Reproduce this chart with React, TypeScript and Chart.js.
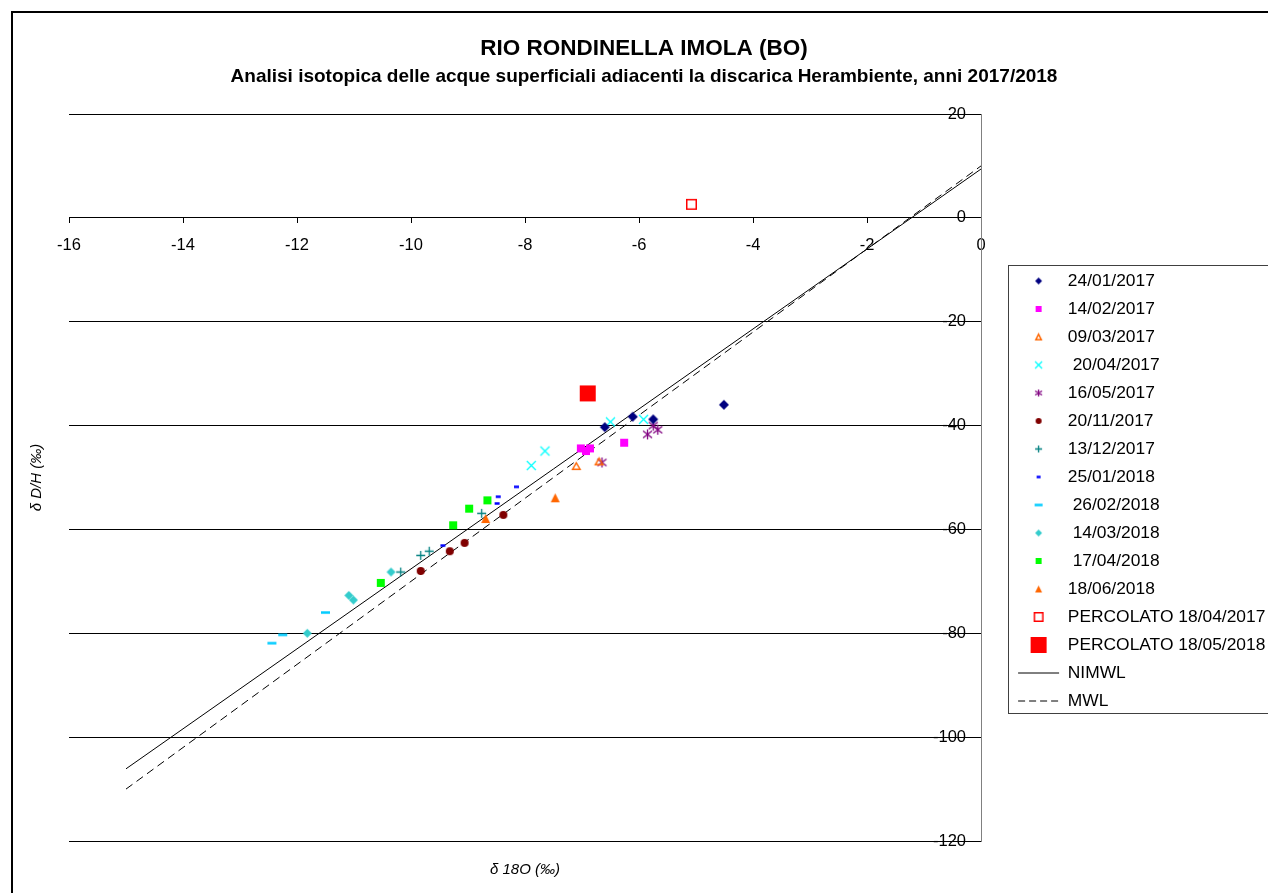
import React, { useEffect, useRef } from 'react';
import { Chart, registerables } from 'chart.js';

Chart.register(...registerables);

const FONT = '"Liberation Sans", Arial, Helvetica, sans-serif';

// Axis ranges / ticks
const X_MIN = -16;
const X_MAX = 0;
const X_STEP = 2;
const Y_MIN = -120;
const Y_MAX = 20;
const Y_STEP = 20;

const TITLE = 'RIO RONDINELLA IMOLA (BO)';
const SUBTITLE = 'Analisi isotopica delle acque superficiali adiacenti la discarica Herambiente, anni 2017/2018';
const X_TITLE = 'δ 18O (‰)';
const Y_TITLE = 'δ D/H (‰)';

const seriesLabels = [
  '24/01/2017',
  '14/02/2017',
  '09/03/2017',
  ' 20/04/2017',
  '16/05/2017',
  '20/11/2017',
  '13/12/2017',
  '25/01/2018',
  ' 26/02/2018',
  ' 14/03/2018',
  ' 17/04/2018',
  '18/06/2018',
  'PERCOLATO 18/04/2017',
  'PERCOLATO 18/05/2018',
  'NIMWL',
  'MWL',
];

// δ18O (x) and δD (y) values per sampling date
const o18_240117 = [-6.6, -6.11, -5.75, -4.51];
const dD_240117 = [-40.3, -38.3, -38.8, -36.0];
const o18_140217 = [-7.02, -6.93, -6.86, -6.26];
const dD_140217 = [-44.4, -44.9, -44.4, -43.3];
const o18_090317 = [-7.1, -6.7];
const dD_090317 = [-47.8, -46.9];
const o18_200417 = [-7.89, -7.65, -6.5, -5.92];
const dD_200417 = [-47.7, -44.9, -39.3, -38.8];
const o18_160517 = [-6.65, -5.85, -5.75, -5.67];
const dD_160517 = [-47.1, -41.7, -40.0, -40.8];
const o18_201117 = [-9.83, -9.32, -9.06, -8.38];
const dD_201117 = [-68.0, -64.2, -62.6, -57.2];
const o18_131217 = [-10.18, -9.83, -9.68, -8.76];
const dD_131217 = [-68.2, -65.0, -64.2, -56.9];
const o18_250118 = [-9.44, -8.49, -8.47, -8.15];
const dD_250118 = [-63.1, -55.0, -53.7, -51.8];
const o18_260218 = [-12.44, -12.25, -11.5];
const dD_260218 = [-81.9, -80.3, -76.0];
const o18_140318 = [-11.82, -11.09, -11.01, -10.35];
const dD_140318 = [-80.0, -72.7, -73.6, -68.2];
const o18_170418 = [-10.53, -9.26, -8.98, -8.66];
const dD_170418 = [-70.3, -59.2, -56.0, -54.4];
const o18_180618 = [-8.69, -7.47];
const dD_180618 = [-57.9, -53.9];
const o18_perc180417 = [-5.08];
const dD_perc180417 = [2.6];
const o18_perc180518 = [-6.9];
const dD_perc180518 = [-33.8];
// Meteoric water lines (end points)
const o18_nimwl = [-15, 0];
const dD_nimwl = [-106.1, 9.4];
const o18_mwl = [-15, 0];
const dD_mwl = [-110, 10];

const seriesX = [
  o18_240117, o18_140217, o18_090317, o18_200417, o18_160517, o18_201117, o18_131217,
  o18_250118, o18_260218, o18_140318, o18_170418, o18_180618, o18_perc180417, o18_perc180518,
];
const seriesY = [
  dD_240117, dD_140217, dD_090317, dD_200417, dD_160517, dD_201117, dD_131217,
  dD_250118, dD_260218, dD_140318, dD_170418, dD_180618, dD_perc180417, dD_perc180518,
];

const seriesColors = [
  '#000080', '#FF00FF', '#FF6600', '#00FFFF', '#800080', '#800000', '#008080',
  '#0000FF', '#00CCFF', '#33CCCC', '#00FF00', '#FF6600', '#FF0000', '#FF0000',
];

type Shape = 'diamond' | 'square' | 'triOpen' | 'tri' | 'x' | 'star' | 'circle' | 'plus' | 'dash' | 'sqOpen';
const seriesShapes: Shape[] = [
  'diamond', 'square', 'triOpen', 'x', 'star', 'circle', 'plus',
  'dash', 'dash', 'diamond', 'square', 'tri', 'sqOpen', 'square',
];
// [w, h] marker sizes in plot and legend
const plotSizes: number[][] = [
  [10, 10], [8, 8], [9, 8], [9, 9], [9, 10], [8, 8], [9, 9],
  [5, 2.5], [9, 2.5], [9, 9], [8, 8], [9, 9], [11, 11], [16, 16],
];
const legendSizes: number[][] = [
  [7, 7], [6, 6], [7, 7], [7, 7], [7, 7], [6, 6], [7, 7],
  [4, 2.5], [8, 2.5], [7, 7], [6, 6], [7, 7], [10, 10], [16, 16],
];

function makeMarker(shape: Shape, color: string, w: number, h: number): HTMLCanvasElement {
  const c = document.createElement('canvas');
  const cw = Math.ceil(w) + 4;
  const ch = Math.ceil(h) + 4;
  c.width = cw;
  c.height = ch;
  const ctx = c.getContext('2d')!;
  const cx = cw / 2;
  const cy = ch / 2;
  ctx.fillStyle = color;
  ctx.strokeStyle = color;
  ctx.lineWidth = 1.3;
  ctx.beginPath();
  switch (shape) {
    case 'diamond':
      ctx.moveTo(cx, cy - h / 2);
      ctx.lineTo(cx + w / 2, cy);
      ctx.lineTo(cx, cy + h / 2);
      ctx.lineTo(cx - w / 2, cy);
      ctx.closePath();
      ctx.fill();
      break;
    case 'square':
    case 'dash':
      ctx.fillRect(cx - w / 2, cy - h / 2, w, h);
      break;
    case 'sqOpen':
      ctx.lineWidth = 1.5;
      ctx.strokeRect(cx - w / 2 + 0.75, cy - h / 2 + 0.75, w - 1.5, h - 1.5);
      break;
    case 'tri':
      ctx.moveTo(cx, cy - h / 2);
      ctx.lineTo(cx + w / 2, cy + h / 2);
      ctx.lineTo(cx - w / 2, cy + h / 2);
      ctx.closePath();
      ctx.fill();
      break;
    case 'triOpen':
      ctx.lineWidth = 1.5;
      ctx.moveTo(cx, cy - h / 2 + 0.75);
      ctx.lineTo(cx + w / 2 - 0.75, cy + h / 2 - 0.75);
      ctx.lineTo(cx - w / 2 + 0.75, cy + h / 2 - 0.75);
      ctx.closePath();
      ctx.stroke();
      break;
    case 'x':
      ctx.moveTo(cx - w / 2, cy - h / 2);
      ctx.lineTo(cx + w / 2, cy + h / 2);
      ctx.moveTo(cx + w / 2, cy - h / 2);
      ctx.lineTo(cx - w / 2, cy + h / 2);
      ctx.stroke();
      break;
    case 'star':
      ctx.moveTo(cx - w / 2, cy - h / 2 + 1.5);
      ctx.lineTo(cx + w / 2, cy + h / 2 - 1.5);
      ctx.moveTo(cx + w / 2, cy - h / 2 + 1.5);
      ctx.lineTo(cx - w / 2, cy + h / 2 - 1.5);
      ctx.moveTo(cx, cy - h / 2);
      ctx.lineTo(cx, cy + h / 2);
      ctx.stroke();
      break;
    case 'circle':
      ctx.arc(cx, cy, w / 2, 0, Math.PI * 2);
      ctx.fill();
      break;
    case 'plus':
      ctx.moveTo(cx - w / 2, cy);
      ctx.lineTo(cx + w / 2, cy);
      ctx.moveTo(cx, cy - h / 2);
      ctx.lineTo(cx, cy + h / 2);
      ctx.stroke();
      break;
  }
  return c;
}

const legendFrame = {
  id: 'legendFrame',
  afterLayout(chart: any) {
    // let the legend text run on past the legend box (it is cut by the page edge)
    const lg = chart.legend;
    if (lg) {
      lg.width = 400;
      lg.right = lg.left + 400;
    }
  },
  afterDraw(chart: any) {
    const lg = chart.legend;
    if (!lg || !lg.legendHitBoxes || !lg.legendHitBoxes.length) return;
    const hb = lg.legendHitBoxes;
    const first = hb[0];
    const last = hb[hb.length - 1];
    const top = Math.round(first.top - 7) + 0.5;
    const bottom = Math.round(last.top + last.height + 3) + 0.5;
    const left = Math.round(first.left - 10) + 0.5;
    const ctx = chart.ctx;
    ctx.save();
    ctx.strokeStyle = '#404040';
    ctx.lineWidth = 1;
    ctx.strokeRect(left, top, 400, bottom - top);
    ctx.restore();
  },
};

export default function App() {
  const ref = useRef<HTMLCanvasElement>(null);

  useEffect(() => {
    const canvas = ref.current;
    if (!canvas) return;
    Chart.defaults.font.family = FONT;
    Chart.defaults.color = '#000';

    const plotMarkers = seriesShapes.map((s, i) => makeMarker(s, seriesColors[i], plotSizes[i][0], plotSizes[i][1]));
    const legendMarkers = seriesShapes.map((s, i) => makeMarker(s, seriesColors[i], legendSizes[i][0], legendSizes[i][1]));

    const pointDatasets = seriesX.map((xs, i) => ({
      label: seriesLabels[i],
      data: xs.map((x, j) => ({ x, y: seriesY[i][j] })),
      pointStyle: plotMarkers[i],
      pointRadius: 5,
      backgroundColor: seriesColors[i],
      borderColor: seriesColors[i],
      showLine: false,
    }));

    const lineDatasets = [
      {
        label: seriesLabels[14],
        data: o18_nimwl.map((x, j) => ({ x, y: dD_nimwl[j] })),
        showLine: true,
        pointRadius: 0,
        borderColor: '#000',
        backgroundColor: '#000',
        borderWidth: 1,
      },
      {
        label: seriesLabels[15],
        data: o18_mwl.map((x, j) => ({ x, y: dD_mwl[j] })),
        showLine: true,
        pointRadius: 0,
        borderColor: '#000',
        backgroundColor: '#000',
        borderWidth: 1,
        borderDash: [8, 5],
      },
    ];

    const chart = new Chart(canvas, {
      type: 'scatter',
      data: { datasets: [...pointDatasets, ...lineDatasets] as any },
      plugins: [legendFrame],
      options: {
        responsive: false,
        devicePixelRatio: 1,
        animation: false,
        events: [],
        layout: { padding: { left: 12, top: 12, right: 14, bottom: 0 } },
        scales: {
          x: {
            type: 'linear',
            position: { y: 0 } as any,
            min: X_MIN,
            max: X_MAX,
            ticks: { stepSize: X_STEP, font: { size: 16.5 }, color: '#000', padding: 13, maxRotation: 0 },
            grid: { drawOnChartArea: false, drawTicks: true, tickLength: 5, color: '#000' },
            border: { display: true, color: '#000', width: 1 },
          },
          y: {
            type: 'linear',
            position: 'right',
            min: Y_MIN,
            max: Y_MAX,
            ticks: { stepSize: Y_STEP, font: { size: 16.5 }, color: '#000', mirror: true, padding: -15 },
            grid: { color: '#000', lineWidth: 1, drawTicks: true, tickLength: 56.5, tickColor: 'rgba(0,0,0,0)' },
            border: { display: true, color: '#808080', width: 1 },
          },
          yPad: {
            type: 'linear',
            axis: 'y',
            position: 'right',
            weight: 2000,
            min: 0,
            max: 1,
            ticks: { display: false },
            grid: { display: false, drawTicks: false },
            border: { display: false },
            title: { display: true, text: ' ', font: { size: 10 }, padding: { top: 0, bottom: 98.5 } },
          },
          yTitle: {
            type: 'linear',
            axis: 'y',
            position: 'left',
            min: 0,
            max: 1,
            ticks: { display: false },
            grid: { display: false, drawTicks: false },
            border: { display: false },
            title: {
              display: true,
              text: Y_TITLE,
              color: '#000',
              font: { size: 15, style: 'italic' },
              padding: { top: 16, bottom: 23 },
            },
          },
          xTitle: {
            type: 'linear',
            axis: 'x',
            position: 'bottom',
            min: 0,
            max: 1,
            ticks: { display: false },
            grid: { display: false, drawTicks: false },
            border: { display: false },
            title: {
              display: true,
              text: X_TITLE,
              color: '#000',
              font: { size: 15, style: 'italic' },
              padding: { top: 20, bottom: 14 },
            },
          },
        } as any,
        plugins: {
          tooltip: { enabled: false },
          title: {
            display: true,
            text: TITLE,
            color: '#000',
            font: { size: 22.5, weight: 'bold' },
            padding: { top: 23.5, bottom: 0 },
          },
          subtitle: {
            display: true,
            text: SUBTITLE,
            color: '#000',
            font: { size: 19, weight: 'bold' },
            padding: { top: 3.1, bottom: 25.6 },
          },
          legend: {
            display: true,
            position: 'right',
            align: 'start',
            title: { display: true, text: ' ', font: { size: 10 }, padding: { top: 237.7, bottom: 0 } },
            labels: {
              usePointStyle: true,
              pointStyleWidth: 41,
              padding: 10.6,
              color: '#000',
              font: { size: 17.4 },
              generateLabels: () =>
                seriesLabels.map((text, i) => ({
                  text,
                  datasetIndex: i,
                  hidden: false,
                  fontColor: '#000',
                  pointStyle: i < 14 ? legendMarkers[i] : 'line',
                  fillStyle: i < 14 ? seriesColors[i] : '#000',
                  strokeStyle: i < 14 ? seriesColors[i] : '#000',
                  lineWidth: 1,
                  lineDash: i === 15 ? [7, 4] : [],
                })) as any,
            },
          },
        },
      } as any,
    });
    return () => chart.destroy();
  }, []);

  return (
    <div style={{ position: 'fixed', left: 0, top: 0, width: 1268, height: 893, overflow: 'hidden', background: '#fff' }}>
      <canvas ref={ref} width={1290} height={893} style={{ position: 'absolute', left: 0, top: 0, width: 1290, height: 893 }} />
      <div
        style={{
          position: 'absolute',
          left: 11,
          top: 11,
          width: 1300,
          height: 900,
          border: '2px solid #000',
          pointerEvents: 'none',
        }}
      />
    </div>
  );
}
